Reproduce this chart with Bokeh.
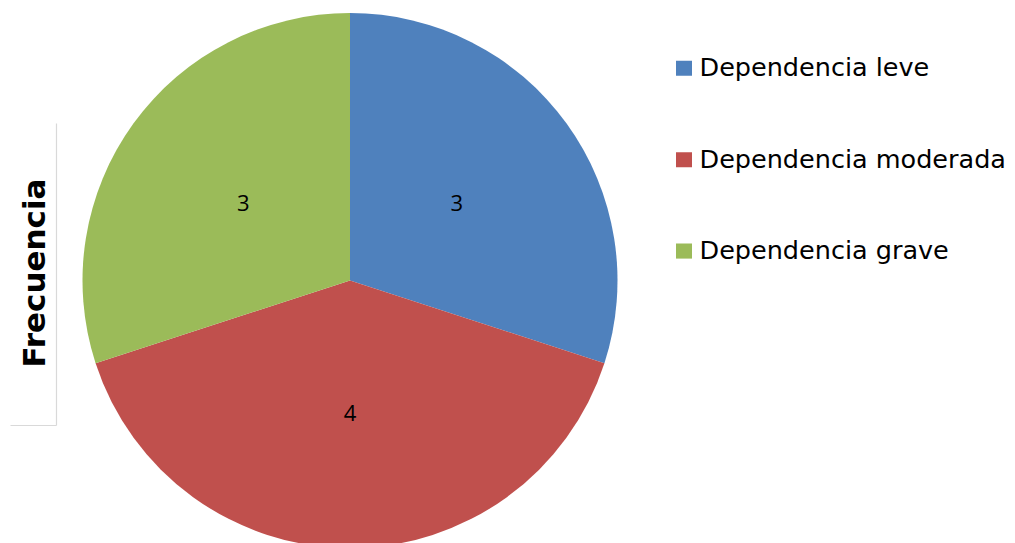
import math
from bokeh.plotting import figure
from bokeh.models import Range1d, ColumnDataSource
from bokeh.core.properties import value
from bokeh.embed import file_html
from bokeh.resources import INLINE

# ---- data ----
categories = ["Dependencia leve", "Dependencia moderada", "Dependencia grave"]
counts = [3, 4, 3]
colors = ["#4F81BD", "#C0504D", "#9BBB59"]
axis_title = "Frecuencia"

W, H = 1015, 543
p = figure(width=W, height=H, output_backend="svg", toolbar_location=None,
           x_range=Range1d(0, W), y_range=Range1d(0, H), min_border=0)
p.axis.visible = False
p.grid.visible = False
p.outline_line_color = None
p.background_fill_color = "white"
p.border_fill_color = "white"

cx, cy, R = 349.5, H - 280, 267.5
total = sum(counts)
starts, ends, lx, ly = [], [], [], []
a = math.pi / 2
for c in counts:
    sweep = 2 * math.pi * c / total
    starts.append(a)
    ends.append(a - sweep)
    mid = a - sweep / 2
    lx.append(cx + 132 * math.cos(mid))
    ly.append(cy + 132 * math.sin(mid))
    a -= sweep

src = ColumnDataSource(dict(start=starts, end=ends, color=colors,
                            lx=lx, ly=ly, lab=[str(c) for c in counts]))
p.wedge(x=cx, y=cy, radius=R, start_angle="start", end_angle="end",
        direction="clock", fill_color="color", line_color=None, source=src)
p.text(x="lx", y="ly", text="lab", source=src, text_align="center",
       text_baseline="middle", text_font=value("Open Sans"),
       text_font_size="22px", text_color="black")

# legend (manual)
leg_y = [H - 67.8 - i * 91.4 for i in range(len(categories))]
lsrc = ColumnDataSource(dict(x=[683.5] * len(categories), y=leg_y,
                             tx=[699] * len(categories),
                             ty=[y + 1 for y in leg_y],
                             name=categories, color=colors))
p.rect(x="x", y="y", width=16, height=15, fill_color="color",
       line_color=None, source=lsrc)
p.text(x="tx", y="ty", text="name", source=lsrc, text_align="left",
       text_baseline="middle", text_font=value("DejaVu Sans"),
       text_font_size="25.5px", text_color="black")

# stray axis title and frame lines at left
p.segment(x0=[56, 10], y0=[H - 123, H - 425], x1=[56, 56], y1=[H - 425, H - 425],
          line_color="#D9D9D9", line_width=1.2)
p.text(x=[33], y=[H - 272.5], text=[axis_title], angle=math.pi / 2,
       text_align="center", text_baseline="middle",
       text_font=value("DejaVu Sans"), text_font_style="bold",
       text_font_size="31px", text_color="black")

open("out.html", "w").write(file_html(p, INLINE))
